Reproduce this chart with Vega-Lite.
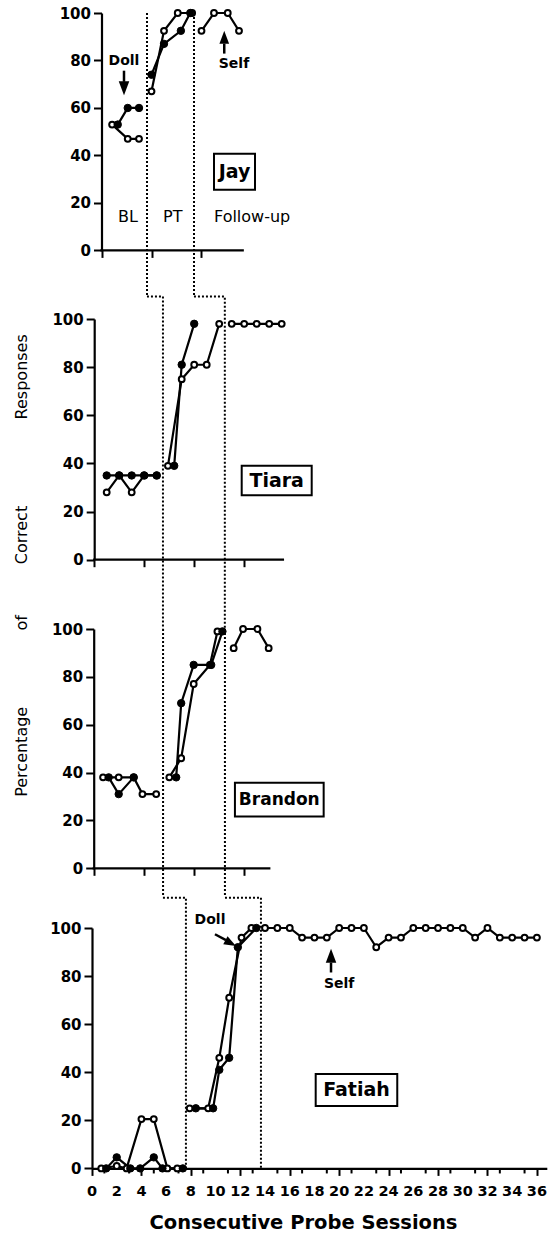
{
  "$schema": "https://vega.github.io/schema/vega-lite/v6.json",
  "padding": {"left": 12, "top": 6, "right": 5, "bottom": 5},
  "spacing": 0,
  "bounds": "flush",
  "config": {
    "view": {"stroke": null},
    "font": "DejaVu Sans",
    "text": {"font": "DejaVu Sans", "color": "black", "clip": false},
    "axis": {"domainColor": "black", "domainWidth": 2.2, "tickColor": "black", "tickWidth": 2, "labelColor": "black", "labelFont": "DejaVu Sans", "labelFontSize": 15, "labelFontWeight": "bold", "labelPadding": 3, "grid": false, "titleColor": "black"}
  },
  "datasets": {
    "jay": [
      {"session": 0.85, "percent": 53, "series": "open", "phase": "BL"},
      {"session": 2.1, "percent": 47, "series": "open", "phase": "BL"},
      {"session": 3, "percent": 47, "series": "open", "phase": "BL"},
      {"session": 1.3, "percent": 53, "series": "filled", "phase": "BL"},
      {"session": 2.1, "percent": 60, "series": "filled", "phase": "BL"},
      {"session": 3, "percent": 60, "series": "filled", "phase": "BL"},
      {"session": 4, "percent": 67, "series": "open", "phase": "PT"},
      {"session": 5, "percent": 92.5, "series": "open", "phase": "PT"},
      {"session": 6.1, "percent": 100, "series": "open", "phase": "PT"},
      {"session": 7.25, "percent": 100, "series": "open", "phase": "PT"},
      {"session": 4, "percent": 74, "series": "filled", "phase": "PT"},
      {"session": 5, "percent": 87, "series": "filled", "phase": "PT"},
      {"session": 6.35, "percent": 92.5, "series": "filled", "phase": "PT"},
      {"session": 7.1, "percent": 100, "series": "filled", "phase": "PT"},
      {"session": 8, "percent": 92.5, "series": "open", "phase": "FU"},
      {"session": 9, "percent": 100, "series": "open", "phase": "FU"},
      {"session": 10.1, "percent": 100, "series": "open", "phase": "FU"},
      {"session": 11, "percent": 92.5, "series": "open", "phase": "FU"}
    ],
    "jay_phase": [
      {"session": 3.64, "percent": 100, "line": "A", "order": 1},
      {"session": 3.64, "percent": -19.1, "line": "A", "order": 2},
      {"session": 7.4, "percent": 100, "line": "B", "order": 1},
      {"session": 7.4, "percent": -19.1, "line": "B", "order": 2}
    ],
    "tiara": [
      {"session": 1, "percent": 28, "series": "open", "phase": "BL"},
      {"session": 2, "percent": 35, "series": "open", "phase": "BL"},
      {"session": 3, "percent": 28, "series": "open", "phase": "BL"},
      {"session": 4, "percent": 35, "series": "open", "phase": "BL"},
      {"session": 5, "percent": 35, "series": "open", "phase": "BL"},
      {"session": 1, "percent": 35, "series": "filled", "phase": "BL"},
      {"session": 2, "percent": 35, "series": "filled", "phase": "BL"},
      {"session": 3, "percent": 35, "series": "filled", "phase": "BL"},
      {"session": 4, "percent": 35, "series": "filled", "phase": "BL"},
      {"session": 5, "percent": 35, "series": "filled", "phase": "BL"},
      {"session": 5.9, "percent": 39, "series": "open", "phase": "PT"},
      {"session": 7, "percent": 75, "series": "open", "phase": "PT"},
      {"session": 8, "percent": 81, "series": "open", "phase": "PT"},
      {"session": 9, "percent": 81, "series": "open", "phase": "PT"},
      {"session": 10, "percent": 98, "series": "open", "phase": "PT"},
      {"session": 6.4, "percent": 39, "series": "filled", "phase": "PT"},
      {"session": 7, "percent": 81, "series": "filled", "phase": "PT"},
      {"session": 8, "percent": 98, "series": "filled", "phase": "PT"},
      {"session": 11, "percent": 98, "series": "open", "phase": "FU"},
      {"session": 12, "percent": 98, "series": "open", "phase": "FU"},
      {"session": 13, "percent": 98, "series": "open", "phase": "FU"},
      {"session": 14, "percent": 98, "series": "open", "phase": "FU"},
      {"session": 15, "percent": 98, "series": "open", "phase": "FU"}
    ],
    "tiara_phase": [
      {"session": 4.22, "percent": 109.3, "line": "A", "order": 1},
      {"session": 5.5, "percent": 109.3, "line": "A", "order": 2},
      {"session": 5.5, "percent": -28.7, "line": "A", "order": 3},
      {"session": 7.98, "percent": 109.3, "line": "B", "order": 1},
      {"session": 10.45, "percent": 109.3, "line": "B", "order": 2},
      {"session": 10.45, "percent": -28.7, "line": "B", "order": 3}
    ],
    "brandon": [
      {"session": 0.75, "percent": 38, "series": "open", "phase": "BL"},
      {"session": 2, "percent": 38, "series": "open", "phase": "BL"},
      {"session": 3.2, "percent": 38, "series": "open", "phase": "BL"},
      {"session": 3.9, "percent": 31, "series": "open", "phase": "BL"},
      {"session": 5, "percent": 31, "series": "open", "phase": "BL"},
      {"session": 1.2, "percent": 38, "series": "filled", "phase": "BL"},
      {"session": 2, "percent": 31, "series": "filled", "phase": "BL"},
      {"session": 3.2, "percent": 38, "series": "filled", "phase": "BL"},
      {"session": 6.05, "percent": 38, "series": "open", "phase": "PT"},
      {"session": 7, "percent": 46, "series": "open", "phase": "PT"},
      {"session": 8, "percent": 77, "series": "open", "phase": "PT"},
      {"session": 9.3, "percent": 85, "series": "open", "phase": "PT"},
      {"session": 9.9, "percent": 99, "series": "open", "phase": "PT"},
      {"session": 6.6, "percent": 38, "series": "filled", "phase": "PT"},
      {"session": 7, "percent": 69, "series": "filled", "phase": "PT"},
      {"session": 8, "percent": 85, "series": "filled", "phase": "PT"},
      {"session": 9.4, "percent": 85, "series": "filled", "phase": "PT"},
      {"session": 10.3, "percent": 99, "series": "filled", "phase": "PT"},
      {"session": 11.2, "percent": 92, "series": "open", "phase": "FU"},
      {"session": 11.95, "percent": 100, "series": "open", "phase": "FU"},
      {"session": 13.1, "percent": 100, "series": "open", "phase": "FU"},
      {"session": 14, "percent": 92, "series": "open", "phase": "FU"}
    ],
    "brandon_phase": [
      {"session": 5.55, "percent": 100, "line": "A", "order": 1},
      {"session": 5.55, "percent": -12, "line": "A", "order": 2},
      {"session": 10.5, "percent": 100, "line": "B", "order": 1},
      {"session": 10.5, "percent": -12, "line": "B", "order": 2}
    ],
    "fatiah": [
      {"session": 0.75, "percent": 0, "series": "open", "phase": "BL"},
      {"session": 2, "percent": 1, "series": "open", "phase": "BL"},
      {"session": 2.8, "percent": 0, "series": "open", "phase": "BL"},
      {"session": 4, "percent": 20.5, "series": "open", "phase": "BL"},
      {"session": 5, "percent": 20.5, "series": "open", "phase": "BL"},
      {"session": 6.1, "percent": 0, "series": "open", "phase": "BL"},
      {"session": 6.9, "percent": 0, "series": "open", "phase": "BL"},
      {"session": 1.15, "percent": 0, "series": "filled", "phase": "BL"},
      {"session": 2, "percent": 4.6, "series": "filled", "phase": "BL"},
      {"session": 3.1, "percent": 0, "series": "filled", "phase": "BL"},
      {"session": 3.9, "percent": 0, "series": "filled", "phase": "BL"},
      {"session": 5, "percent": 4.6, "series": "filled", "phase": "BL"},
      {"session": 5.7, "percent": 0, "series": "filled", "phase": "BL"},
      {"session": 7.35, "percent": 0, "series": "filled", "phase": "BL"},
      {"session": 7.9, "percent": 25, "series": "open", "phase": "PT"},
      {"session": 9.4, "percent": 25, "series": "open", "phase": "PT"},
      {"session": 10.3, "percent": 46, "series": "open", "phase": "PT"},
      {"session": 11.1, "percent": 71, "series": "open", "phase": "PT"},
      {"session": 12.1, "percent": 96, "series": "open", "phase": "PT"},
      {"session": 12.9, "percent": 100, "series": "open", "phase": "PT"},
      {"session": 8.4, "percent": 25, "series": "filled", "phase": "PT"},
      {"session": 9.8, "percent": 25, "series": "filled", "phase": "PT"},
      {"session": 10.3, "percent": 41, "series": "filled", "phase": "PT"},
      {"session": 11.1, "percent": 46, "series": "filled", "phase": "PT"},
      {"session": 11.8, "percent": 92, "series": "filled", "phase": "PT"},
      {"session": 13.3, "percent": 100, "series": "filled", "phase": "PT"},
      {"session": 14, "percent": 100, "series": "open", "phase": "FU"},
      {"session": 15, "percent": 100, "series": "open", "phase": "FU"},
      {"session": 16, "percent": 100, "series": "open", "phase": "FU"},
      {"session": 17, "percent": 96, "series": "open", "phase": "FU"},
      {"session": 18, "percent": 96, "series": "open", "phase": "FU"},
      {"session": 19, "percent": 96, "series": "open", "phase": "FU"},
      {"session": 20, "percent": 100, "series": "open", "phase": "FU"},
      {"session": 21, "percent": 100, "series": "open", "phase": "FU"},
      {"session": 22, "percent": 100, "series": "open", "phase": "FU"},
      {"session": 23, "percent": 92, "series": "open", "phase": "FU"},
      {"session": 24, "percent": 96, "series": "open", "phase": "FU"},
      {"session": 25, "percent": 96, "series": "open", "phase": "FU"},
      {"session": 26, "percent": 100, "series": "open", "phase": "FU"},
      {"session": 27, "percent": 100, "series": "open", "phase": "FU"},
      {"session": 28, "percent": 100, "series": "open", "phase": "FU"},
      {"session": 29, "percent": 100, "series": "open", "phase": "FU"},
      {"session": 30, "percent": 100, "series": "open", "phase": "FU"},
      {"session": 31, "percent": 96, "series": "open", "phase": "FU"},
      {"session": 32, "percent": 100, "series": "open", "phase": "FU"},
      {"session": 33, "percent": 96, "series": "open", "phase": "FU"},
      {"session": 34, "percent": 96, "series": "open", "phase": "FU"},
      {"session": 35, "percent": 96, "series": "open", "phase": "FU"},
      {"session": 36, "percent": 96, "series": "open", "phase": "FU"}
    ],
    "fatiah_phase": [
      {"session": 5.74, "percent": 112.6, "line": "A", "order": 1},
      {"session": 7.6, "percent": 112.6, "line": "A", "order": 2},
      {"session": 7.6, "percent": 0, "line": "A", "order": 3},
      {"session": 10.76, "percent": 112.6, "line": "B", "order": 1},
      {"session": 13.67, "percent": 112.6, "line": "B", "order": 2},
      {"session": 13.67, "percent": 0, "line": "B", "order": 3}
    ],
    "odd_sessions": [
      {"session": 1}, {"session": 3}, {"session": 5}, {"session": 7}, {"session": 9}, {"session": 11},
      {"session": 13}, {"session": 15}, {"session": 17}, {"session": 19}, {"session": 21}, {"session": 23},
      {"session": 25}, {"session": 27}, {"session": 29}, {"session": 31}, {"session": 33}, {"session": 35}
    ],
    "even_sessions": [
      {"session": 0}, {"session": 2}, {"session": 4}, {"session": 6}, {"session": 8}, {"session": 10}, {"session": 12},
      {"session": 14}, {"session": 16}, {"session": 18}, {"session": 20}, {"session": 22}, {"session": 24},
      {"session": 26}, {"session": 28}, {"session": 30}, {"session": 32}, {"session": 34}, {"session": 36}
    ]
  },
  "vconcat": [
    {
      "width": 150.75, "height": 237.4,
      "layer": [
        {"data": {"name": "jay"}, "mark": {"type": "line", "color": "black", "strokeWidth": 2.2},
         "encoding": {
           "x": {"field": "session", "type": "quantitative", "scale": {"domain": [-0.76, 11.3], "nice": false, "zero": false},
                 "axis": {"values": [0,1,2,3,4,5,6,7,8,9,10,11], "labels": false, "domain": false, "title": null, "tickSize": {"condition": {"test": "datum.value % 2 === 0", "value": 7}, "value": 5}}},
           "y": {"field": "percent", "type": "quantitative", "scale": {"domain": [0, 100], "nice": false},
                 "axis": {"offset": -9.5, "values": [0,10,20,30,40,50,60,70,80,90,100], "labelExpr": "datum.value % 20 === 0 ? datum.label : ''", "title": null, "tickSize": {"condition": {"test": "datum.value % 20 === 0", "value": 8}, "value": 5}}},
           "detail": [{"field": "series"}, {"field": "phase"}]}},
        {"data": {"values": [{}]}, "mark": {"type": "rule", "strokeWidth": 2.2, "color": "black", "strokeCap": "square"},
         "encoding": {"x": {"datum": 0, "type": "quantitative"}, "x2": {"datum": 11.3}, "y": {"datum": 0, "type": "quantitative"}}},
        {"data": {"name": "jay_phase"}, "mark": {"type": "line", "clip": false, "strokeDash": [2, 2], "strokeWidth": 2, "color": "black"},
         "encoding": {"x": {"field": "session", "type": "quantitative"}, "y": {"field": "percent", "type": "quantitative"}, "detail": {"field": "line"}, "order": {"field": "order"}}},
        {"data": {"name": "jay"}, "transform": [{"filter": "datum.series === 'open'"}], "mark": {"type": "point", "shape": "circle", "filled": true, "fill": "white", "stroke": "black", "strokeWidth": 2, "size": 34, "opacity": 1},
         "encoding": {"x": {"field": "session", "type": "quantitative"}, "y": {"field": "percent", "type": "quantitative"}}},
        {"data": {"name": "jay"}, "transform": [{"filter": "datum.series === 'filled'"}], "mark": {"type": "point", "shape": "circle", "filled": true, "fill": "black", "stroke": "black", "strokeWidth": 1, "size": 55, "opacity": 1},
         "encoding": {"x": {"field": "session", "type": "quantitative"}, "y": {"field": "percent", "type": "quantitative"}}},
        {"data": {"values": [{}]}, "mark": {"type": "text", "text": "Doll", "fontSize": 14, "fontWeight": "bold"}, "encoding": {"x": {"datum": 1.8, "type": "quantitative"}, "y": {"datum": 79.9, "type": "quantitative"}}},
        {"data": {"values": [{}]}, "mark": {"type": "rule", "strokeWidth": 2.5, "color": "black"}, "encoding": {"x": {"datum": 1.8, "type": "quantitative"}, "y": {"datum": 75.7, "type": "quantitative"}, "y2": {"datum": 71}}},
        {"data": {"values": [{}]}, "mark": {"type": "point", "shape": "M-0.75,-1L0.75,-1L0,1Z", "size": 196, "filled": true, "fill": "black", "strokeWidth": 0, "opacity": 1}, "encoding": {"x": {"datum": 1.8, "type": "quantitative"}, "y": {"datum": 68.3, "type": "quantitative"}}},
        {"data": {"values": [{}]}, "mark": {"type": "text", "text": "Self", "fontSize": 14, "fontWeight": "bold"}, "encoding": {"x": {"datum": 10.6, "type": "quantitative"}, "y": {"datum": 78.6, "type": "quantitative"}}},
        {"data": {"values": [{}]}, "mark": {"type": "rule", "strokeWidth": 2.5, "color": "black"}, "encoding": {"x": {"datum": 9.82, "type": "quantitative"}, "y": {"datum": 87.1, "type": "quantitative"}, "y2": {"datum": 82.9}}},
        {"data": {"values": [{}]}, "mark": {"type": "point", "shape": "M-0.75,1L0.75,1L0,-1Z", "size": 169, "filled": true, "fill": "black", "strokeWidth": 0, "opacity": 1}, "encoding": {"x": {"datum": 9.82, "type": "quantitative"}, "y": {"datum": 89.8, "type": "quantitative"}}},
        {"data": {"values": [{}]}, "mark": {"type": "text", "text": "BL", "fontSize": 16}, "encoding": {"x": {"datum": 2.12, "type": "quantitative"}, "y": {"datum": 14.2, "type": "quantitative"}}},
        {"data": {"values": [{}]}, "mark": {"type": "text", "text": "PT", "fontSize": 16}, "encoding": {"x": {"datum": 5.7, "type": "quantitative"}, "y": {"datum": 14.2, "type": "quantitative"}}},
        {"data": {"values": [{}]}, "mark": {"type": "text", "text": "Follow-up", "fontSize": 16, "align": "left"}, "encoding": {"x": {"datum": 9.0, "type": "quantitative"}, "y": {"datum": 14.2, "type": "quantitative"}}},
        {"data": {"values": [{}]}, "mark": {"type": "rect", "fill": "white", "stroke": "black", "strokeWidth": 2, "clip": false}, "encoding": {"x": {"datum": 9.0, "type": "quantitative"}, "x2": {"datum": 12.28}, "y": {"datum": 40.7, "type": "quantitative"}, "y2": {"datum": 25.6}}},
        {"data": {"values": [{}]}, "mark": {"type": "text", "text": "Jay", "fontSize": 19, "fontWeight": "bold"}, "encoding": {"x": {"datum": 10.64, "type": "quantitative"}, "y": {"datum": 33.2, "type": "quantitative"}}}
      ]
    },
    {"width": 10, "height": 67.6, "data": {"values": []}, "mark": "point", "encoding": {}},
    {
      "width": 190.95, "height": 240.7,
      "layer": [
        {"data": {"name": "tiara"}, "mark": {"type": "line", "color": "black", "strokeWidth": 2.2},
         "encoding": {
           "x": {"field": "session", "type": "quantitative", "scale": {"domain": [-0.176, 15.1], "nice": false, "zero": false},
                 "axis": {"values": [0,1,2,3,4,5,6,7,8,9,10,11,12,13,14,15], "labels": false, "domain": false, "title": null, "tickSize": {"condition": {"test": "datum.value % 2 === 0", "value": 7}, "value": 5}}},
           "y": {"field": "percent", "type": "quantitative", "scale": {"domain": [0, 100], "nice": false},
                 "axis": {"offset": -2.2, "values": [0,10,20,30,40,50,60,70,80,90,100], "labelExpr": "datum.value % 20 === 0 ? datum.label : ''", "title": null, "tickSize": {"condition": {"test": "datum.value % 20 === 0", "value": 8}, "value": 5}}},
           "detail": [{"field": "series"}, {"field": "phase"}]}},
        {"data": {"values": [{}]}, "mark": {"type": "rule", "strokeWidth": 2.2, "color": "black", "strokeCap": "square"},
         "encoding": {"x": {"datum": 0, "type": "quantitative"}, "x2": {"datum": 15.1}, "y": {"datum": 0, "type": "quantitative"}}},
        {"data": {"name": "tiara_phase"}, "mark": {"type": "line", "clip": false, "strokeDash": [2, 2], "strokeWidth": 2, "color": "black"},
         "encoding": {"x": {"field": "session", "type": "quantitative"}, "y": {"field": "percent", "type": "quantitative"}, "detail": {"field": "line"}, "order": {"field": "order"}}},
        {"data": {"name": "tiara"}, "transform": [{"filter": "datum.series === 'open'"}], "mark": {"type": "point", "shape": "circle", "filled": true, "fill": "white", "stroke": "black", "strokeWidth": 2, "size": 34, "opacity": 1},
         "encoding": {"x": {"field": "session", "type": "quantitative"}, "y": {"field": "percent", "type": "quantitative"}}},
        {"data": {"name": "tiara"}, "transform": [{"filter": "datum.series === 'filled'"}], "mark": {"type": "point", "shape": "circle", "filled": true, "fill": "black", "stroke": "black", "strokeWidth": 1, "size": 55, "opacity": 1},
         "encoding": {"x": {"field": "session", "type": "quantitative"}, "y": {"field": "percent", "type": "quantitative"}}},
        {"data": {"values": [{}]}, "mark": {"type": "rect", "fill": "white", "stroke": "black", "strokeWidth": 2, "clip": false}, "encoding": {"x": {"datum": 11.8, "type": "quantitative"}, "x2": {"datum": 17.4}, "y": {"datum": 39, "type": "quantitative"}, "y2": {"datum": 26.8}}},
        {"data": {"values": [{}]}, "mark": {"type": "text", "text": "Tiara", "fontSize": 19, "fontWeight": "bold"}, "encoding": {"x": {"datum": 14.6, "type": "quantitative"}, "y": {"datum": 32.9, "type": "quantitative"}}}
      ]
    },
    {"width": 10, "height": 69, "data": {"values": []}, "mark": "point", "encoding": {}},
    {
      "width": 177.3, "height": 239.3,
      "layer": [
        {"data": {"name": "brandon"}, "mark": {"type": "line", "color": "black", "strokeWidth": 2.2},
         "encoding": {
           "x": {"field": "session", "type": "quantitative", "scale": {"domain": [-0.136, 14.05], "nice": false, "zero": false},
                 "axis": {"values": [0,1,2,3,4,5,6,7,8,9,10,11,12,13,14], "labels": false, "domain": false, "title": null, "tickSize": {"condition": {"test": "datum.value % 2 === 0", "value": 7}, "value": 5}}},
           "y": {"field": "percent", "type": "quantitative", "scale": {"domain": [0, 100], "nice": false},
                 "axis": {"offset": -1.7, "values": [0,10,20,30,40,50,60,70,80,90,100], "labelExpr": "datum.value % 20 === 0 ? datum.label : ''", "tickSize": {"condition": {"test": "datum.value % 20 === 0", "value": 8}, "value": 5},
                          "title": "Percentage\u00a0\u00a0\u00a0\u00a0\u00a0\u00a0\u00a0\u00a0\u00a0\u00a0\u00a0\u00a0\u00a0\u00a0\u00a0of\u00a0\u00a0\u00a0\u00a0\u00a0\u00a0\u00a0\u00a0\u00a0\u00a0Correct\u00a0\u00a0\u00a0\u00a0\u00a0\u00a0\u00a0\u00a0\u00a0\u00a0\u00a0\u00a0\u00a0\u00a0\u00a0\u00a0\u00a0Responses",
                          "titleX": -72.7, "titleY": -64, "titleAngle": 270, "titleBaseline": "middle", "titleAlign": "center", "titleFontSize": 16, "titleFontWeight": "normal", "titleFont": "DejaVu Sans"}},
           "detail": [{"field": "series"}, {"field": "phase"}]}},
        {"data": {"values": [{}]}, "mark": {"type": "rule", "strokeWidth": 2.2, "color": "black", "strokeCap": "square"},
         "encoding": {"x": {"datum": 0, "type": "quantitative"}, "x2": {"datum": 14.05}, "y": {"datum": 0, "type": "quantitative"}}},
        {"data": {"name": "brandon_phase"}, "mark": {"type": "line", "clip": false, "strokeDash": [2, 2], "strokeWidth": 2, "color": "black"},
         "encoding": {"x": {"field": "session", "type": "quantitative"}, "y": {"field": "percent", "type": "quantitative"}, "detail": {"field": "line"}, "order": {"field": "order"}}},
        {"data": {"name": "brandon"}, "transform": [{"filter": "datum.series === 'open'"}], "mark": {"type": "point", "shape": "circle", "filled": true, "fill": "white", "stroke": "black", "strokeWidth": 2, "size": 34, "opacity": 1},
         "encoding": {"x": {"field": "session", "type": "quantitative"}, "y": {"field": "percent", "type": "quantitative"}}},
        {"data": {"name": "brandon"}, "transform": [{"filter": "datum.series === 'filled'"}], "mark": {"type": "point", "shape": "circle", "filled": true, "fill": "black", "stroke": "black", "strokeWidth": 1, "size": 55, "opacity": 1},
         "encoding": {"x": {"field": "session", "type": "quantitative"}, "y": {"field": "percent", "type": "quantitative"}}},
        {"data": {"values": [{}]}, "mark": {"type": "rect", "fill": "white", "stroke": "black", "strokeWidth": 2, "clip": false}, "encoding": {"x": {"datum": 11.3, "type": "quantitative"}, "x2": {"datum": 18.4}, "y": {"datum": 35.8, "type": "quantitative"}, "y2": {"datum": 21.6}}},
        {"data": {"values": [{}]}, "mark": {"type": "text", "text": "Brandon", "fontSize": 17, "fontWeight": "bold"}, "encoding": {"x": {"datum": 14.85, "type": "quantitative"}, "y": {"datum": 28.7, "type": "quantitative"}}}
      ]
    },
    {"width": 10, "height": 59, "data": {"values": []}, "mark": "point", "encoding": {}},
    {
      "width": 454.8, "height": 240.4,
      "layer": [
        {"data": {"name": "fatiah"}, "mark": {"type": "line", "color": "black", "strokeWidth": 2.2},
         "encoding": {
           "x": {"field": "session", "type": "quantitative", "scale": {"domain": [0, 36.8], "nice": false, "zero": false},
                 "axis": {"values": [0,2,4,6,8,10,12,14,16,18,20,22,24,26,28,30,32,34,36], "labels": false, "tickSize": 7,
                          "title": "Consecutive Probe Sessions", "titleX": 211, "titleY": 54, "titleBaseline": "middle", "titleAlign": "center", "titleFontSize": 19.5, "titleFontWeight": "bold", "titleFont": "DejaVu Sans"}},
           "y": {"field": "percent", "type": "quantitative", "scale": {"domain": [0, 100], "nice": false},
                 "axis": {"values": [0,10,20,30,40,50,60,70,80,90,100], "labelExpr": "datum.value % 20 === 0 ? datum.label : ''", "title": null, "tickSize": {"condition": {"test": "datum.value % 20 === 0", "value": 8}, "value": 5}}},
           "detail": [{"field": "series"}, {"field": "phase"}]}},
        {"data": {"name": "odd_sessions"}, "mark": {"type": "rule", "strokeWidth": 2, "color": "black", "clip": false},
         "encoding": {"x": {"field": "session", "type": "quantitative"}, "y": {"datum": 0, "type": "quantitative"}, "y2": {"datum": -2.1}}},
        {"data": {"name": "even_sessions"}, "mark": {"type": "text", "fontSize": 14.5, "fontWeight": "bold", "baseline": "middle", "align": "center", "clip": false},
         "encoding": {"x": {"field": "session", "type": "quantitative"}, "y": {"datum": -10, "type": "quantitative"}, "text": {"field": "session", "type": "quantitative"}}},
        {"data": {"name": "fatiah_phase"}, "mark": {"type": "line", "clip": false, "strokeDash": [2, 2], "strokeWidth": 2, "color": "black"},
         "encoding": {"x": {"field": "session", "type": "quantitative"}, "y": {"field": "percent", "type": "quantitative"}, "detail": {"field": "line"}, "order": {"field": "order"}}},
        {"data": {"name": "fatiah"}, "transform": [{"filter": "datum.series === 'open'"}], "mark": {"type": "point", "shape": "circle", "filled": true, "fill": "white", "stroke": "black", "strokeWidth": 2, "size": 34, "opacity": 1},
         "encoding": {"x": {"field": "session", "type": "quantitative"}, "y": {"field": "percent", "type": "quantitative"}}},
        {"data": {"name": "fatiah"}, "transform": [{"filter": "datum.series === 'filled'"}], "mark": {"type": "point", "shape": "circle", "filled": true, "fill": "black", "stroke": "black", "strokeWidth": 1, "size": 55, "opacity": 1},
         "encoding": {"x": {"field": "session", "type": "quantitative"}, "y": {"field": "percent", "type": "quantitative"}}},
        {"data": {"values": [{}]}, "mark": {"type": "text", "text": "Doll", "fontSize": 14, "fontWeight": "bold"}, "encoding": {"x": {"datum": 9.55, "type": "quantitative"}, "y": {"datum": 103.4, "type": "quantitative"}}},
        {"data": {"values": [{}]}, "mark": {"type": "rule", "strokeWidth": 2.5, "color": "black", "clip": false}, "encoding": {"x": {"datum": 9.95, "type": "quantitative"}, "x2": {"datum": 10.84}, "y": {"datum": 97.4, "type": "quantitative"}, "y2": {"datum": 95.0}}},
        {"data": {"values": [{}]}, "mark": {"type": "point", "shape": "M-0.75,-1L0.75,-1L0,1Z", "size": 144, "angle": 298.6, "filled": true, "fill": "black", "strokeWidth": 0, "opacity": 1}, "encoding": {"x": {"datum": 11.22, "type": "quantitative"}, "y": {"datum": 93.7, "type": "quantitative"}}},
        {"data": {"values": [{}]}, "mark": {"type": "text", "text": "Self", "fontSize": 14, "fontWeight": "bold"}, "encoding": {"x": {"datum": 20.0, "type": "quantitative"}, "y": {"datum": 76.7, "type": "quantitative"}}},
        {"data": {"values": [{}]}, "mark": {"type": "rule", "strokeWidth": 2.5, "color": "black"}, "encoding": {"x": {"datum": 19.34, "type": "quantitative"}, "y": {"datum": 85.6, "type": "quantitative"}, "y2": {"datum": 81.5}}},
        {"data": {"values": [{}]}, "mark": {"type": "point", "shape": "M-0.75,1L0.75,1L0,-1Z", "size": 196, "filled": true, "fill": "black", "strokeWidth": 0, "opacity": 1}, "encoding": {"x": {"datum": 19.34, "type": "quantitative"}, "y": {"datum": 88.5, "type": "quantitative"}}},
        {"data": {"values": [{}]}, "mark": {"type": "rect", "fill": "white", "stroke": "black", "strokeWidth": 2}, "encoding": {"x": {"datum": 18.1, "type": "quantitative"}, "x2": {"datum": 24.7}, "y": {"datum": 39.3, "type": "quantitative"}, "y2": {"datum": 26.0}}},
        {"data": {"values": [{}]}, "mark": {"type": "text", "text": "Fatiah", "fontSize": 19, "fontWeight": "bold"}, "encoding": {"x": {"datum": 21.4, "type": "quantitative"}, "y": {"datum": 32.7, "type": "quantitative"}}}
      ]
    }
  ]
}
